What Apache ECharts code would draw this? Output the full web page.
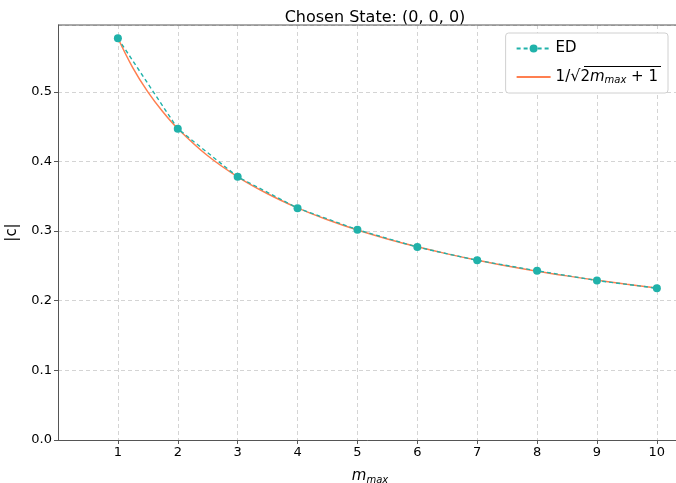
<!DOCTYPE html>
<html><head><meta charset="utf-8">
<script src="https://cdn.jsdelivr.net/npm/echarts@6/dist/echarts.min.js"></script>
<style>html,body{margin:0;padding:0;background:#fff}#c{width:676px;height:483px}</style>
</head><body><div id="c"></div>
<script>
var mValues = [1, 2, 3, 4, 5, 6, 7, 8, 9, 10];
var edValues = [0.577, 0.447, 0.378, 0.333, 0.302, 0.277, 0.258, 0.243, 0.229, 0.218];
var curveX = [1, 1.25, 1.5, 1.75, 2, 2.5, 3, 3.5, 4, 4.5, 5, 5.5, 6, 6.5, 7, 7.5, 8, 8.5, 9, 9.5, 10];
var curveY = [0.5774, 0.5345, 0.5, 0.4714, 0.4472, 0.4082, 0.378, 0.3536, 0.3333, 0.3162, 0.3015, 0.2887, 0.2774, 0.2673, 0.2582, 0.25, 0.2425, 0.2357, 0.2294, 0.2236, 0.2182];
var yTicks = [0.0, 0.1, 0.2, 0.3, 0.4, 0.5];

var FONT = 'DejaVu Sans';
var chart = echarts.init(document.getElementById('c'));
var grid = {left: 58, right: -6, top: 25, bottom: 43, outerBoundsMode: 'none', containLabel: false};
chart.setOption({
  animation: false,
  textStyle: {fontFamily: FONT},
  title: {text: 'Chosen State: (0, 0, 0)', left: 370, textAlign: 'center', top: 5,
    textStyle: {fontFamily: FONT, fontSize: 16, fontWeight: 'normal', color: '#000'}},
  grid: grid,
  legend: {
    right: 8, top: 33, orient: 'vertical', itemGap: 13, itemWidth: 34, itemHeight: 10,
    backgroundColor: '#fff', borderColor: '#d0d0d0', borderWidth: 1, borderRadius: 3,
    padding: [8, 10, 8, 10],
    data: [{name: 'ED'}, {name: 'fit', itemStyle: {opacity: 0}}],
    formatter: function (n) {
      if (n === 'ED') return '{t|ED}';
      return '{t|1/}{r|√}{t|2}{i|m}{s|max}{t| + 1}';
    },
    textStyle: {fontFamily: FONT, fontSize: 15, color: '#000',
      rich: {t: {fontSize: 15, fontFamily: FONT}, r: {fontSize: 16, fontFamily: FONT}, i: {fontSize: 15, fontStyle: 'italic', fontFamily: FONT}, s: {fontSize: 10, fontStyle: 'italic', fontFamily: FONT, verticalAlign: 'bottom', padding: [6, 0, 0, 0]}}}
  },
  xAxis: {
    type: 'value', min: 0, max: 10.42, interval: 1,
    name: '{i|m}{s|max}', nameLocation: 'middle', nameGap: 27,
    nameTextStyle: {rich: {i: {fontSize: 15, fontStyle: 'italic', fontFamily: FONT, color: '#000'}, s: {fontSize: 10, fontStyle: 'italic', fontFamily: FONT, color: '#000', padding: [8, 0, 0, 0]}}},
    axisLine: {lineStyle: {color: '#555', width: 1}},
    axisTick: {show: true, length: 4, lineStyle: {color: '#555'}},
    axisLabel: {fontSize: 13, color: '#000', margin: 6, showMinLabel: false, showMaxLabel: false,
      formatter: function (v) { return mValues.indexOf(v) >= 0 ? String(v) : ''; }},
    splitLine: {show: true, lineStyle: {color: '#d4d4d4', type: [4, 3], width: 1}}
  },
  yAxis: {
    type: 'value', min: 0, max: 0.596, interval: 0.1,
    name: '|c|', nameLocation: 'middle', nameGap: 38,
    nameTextStyle: {fontSize: 15, color: '#000', fontFamily: FONT},
    axisLine: {show: true, lineStyle: {color: '#555', width: 1}},
    axisTick: {show: true, length: 4, lineStyle: {color: '#555'}},
    axisLabel: {fontSize: 13, color: '#000', margin: 6, showMaxLabel: false,
      formatter: function (v) { var r = Math.round(v * 10) / 10; return yTicks.indexOf(r) >= 0 && Math.abs(v - r) < 1e-6 ? r.toFixed(1) : ''; }},
    splitLine: {show: true, lineStyle: {color: '#d4d4d4', type: [4, 3], width: 1}}
  },
  series: [
    {name: 'ED', type: 'line', data: mValues.map(function (m, i) { return [m, edValues[i]]; }),
      lineStyle: {color: '#20b2aa', width: 1.4, type: [4, 3]}, itemStyle: {color: '#20b2aa'},
      symbol: 'circle', symbolSize: 8, z: 3},
    {name: 'fit', type: 'line', data: curveX.map(function (m, i) { return [m, curveY[i]]; }),
      smooth: 0.4, symbol: 'none', lineStyle: {color: '#ff7f50', width: 1.5}, itemStyle: {color: '#ff7f50'}, z: 2}
  ]
});
var top0 = chart.convertToPixel({gridIndex: 0}, [0, 0.596]);
chart.setOption({graphic: [
  {type: 'line', shape: {x1: grid.left, y1: top0[1], x2: 676, y2: top0[1]}, style: {stroke: '#555', lineWidth: 1}, silent: true},
  {type: 'line', z: 100, shape: {x1: 584, y1: 66.5, x2: 661, y2: 66.5}, style: {stroke: '#000', lineWidth: 1}, silent: true}
]});
</script></body></html>
